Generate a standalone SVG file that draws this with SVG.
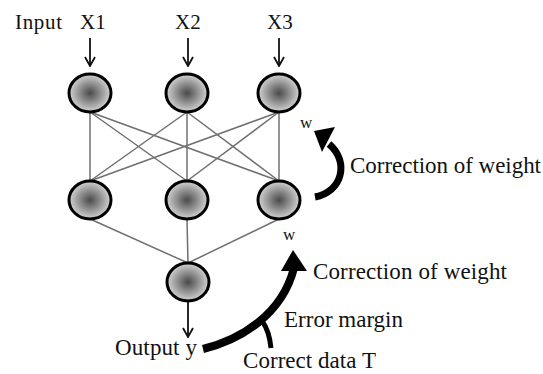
<svg xmlns="http://www.w3.org/2000/svg" width="543" height="374" viewBox="0 0 543 374">
<style>
text{font-family:"Liberation Serif","Times New Roman",serif;fill:#111}
.lbl{font-size:23px}
.top{font-size:21px}
.w{font-size:17px}
.node{fill:url(#g);stroke:#000;stroke-width:3}
.edge{stroke:#707070;stroke-width:1.5;fill:none}
.arr{stroke:#111;stroke-width:1.8;fill:none}
.thick{stroke:#000;fill:none;stroke-linecap:butt}
</style>
<defs>
<radialGradient id="g" cx="50%" cy="50%" r="50%">
<stop offset="0" stop-color="#4a4a4a"/>
<stop offset="1" stop-color="#d4d4d4"/>
</radialGradient>
<marker id="open" markerWidth="12" markerHeight="12" refX="11" refY="6" orient="auto" markerUnits="userSpaceOnUse" viewBox="0 0 12 12">
<path d="M2,1 L11,6 L2,11" fill="none" stroke="#111" stroke-width="1.8"/>
</marker>
</defs>
<g id="connectors">
<line class="edge" x1="90" y1="112" x2="90" y2="181"/>
<line class="edge" x1="90" y1="112" x2="187" y2="181"/>
<line class="edge" x1="90" y1="112" x2="279" y2="181"/>
<line class="edge" x1="187" y1="112" x2="90" y2="181"/>
<line class="edge" x1="187" y1="112" x2="187" y2="181"/>
<line class="edge" x1="187" y1="112" x2="279" y2="181"/>
<line class="edge" x1="279" y1="112" x2="90" y2="181"/>
<line class="edge" x1="279" y1="112" x2="187" y2="181"/>
<line class="edge" x1="279" y1="112" x2="279" y2="181"/>
<line class="edge" x1="90" y1="219" x2="188" y2="263"/>
<line class="edge" x1="187" y1="219" x2="188" y2="263"/>
<line class="edge" x1="279" y1="219" x2="188" y2="263"/>
<line class="arr" x1="90" y1="38" x2="90" y2="66" marker-end="url(#open)"/>
<line class="arr" x1="188" y1="38" x2="188" y2="66" marker-end="url(#open)"/>
<line class="arr" x1="279" y1="38" x2="279" y2="66" marker-end="url(#open)"/>
<line class="arr" x1="188" y1="302" x2="188" y2="337" marker-end="url(#open)"/>
<path class="thick" stroke-width="7" d="M315,197 C342,192 350,162 329,144"/>
<polygon points="314,131 335,127 322,152" fill="#000"/>
<path class="thick" stroke-width="8" d="M203,349 C240,340 282,315 294,268"/>
<polygon points="293,250 281,271 307,271" fill="#000"/>
<path class="thick" stroke-width="5" d="M262,321 C268,329 270,338 271,348"/>
</g>
<g id="in1"><ellipse class="node" cx="90" cy="93" rx="21" ry="19"/></g>
<g id="in2"><ellipse class="node" cx="187" cy="93" rx="21" ry="19"/></g>
<g id="in3"><ellipse class="node" cx="279" cy="93" rx="21" ry="19"/></g>
<g id="h1"><ellipse class="node" cx="90" cy="200" rx="21" ry="19"/></g>
<g id="h2"><ellipse class="node" cx="187" cy="200" rx="21" ry="19"/></g>
<g id="h3"><ellipse class="node" cx="279" cy="200" rx="21" ry="19"/></g>
<g id="out"><ellipse class="node" cx="188" cy="282" rx="21" ry="19"/></g>
<g id="labels">
<text class="top" x="15" y="29" textLength="47" lengthAdjust="spacing">Input</text>
<text class="top" x="80" y="29">X1</text>
<text class="top" x="175" y="29">X2</text>
<text class="top" x="267" y="29">X3</text>
<text class="w" x="300" y="128">w</text>
<text class="w" x="283" y="240">w</text>
<text class="lbl" x="350" y="173" textLength="191" lengthAdjust="spacing">Correction of weight</text>
<text class="lbl" x="313" y="279" textLength="194" lengthAdjust="spacing">Correction of weight</text>
<text class="lbl" x="284" y="327" textLength="119" lengthAdjust="spacing">Error margin</text>
<text class="lbl" x="115" y="355" textLength="82" lengthAdjust="spacing">Output y</text>
<text class="lbl" x="243" y="368" textLength="133" lengthAdjust="spacing">Correct data T</text>
</g>
</svg>
